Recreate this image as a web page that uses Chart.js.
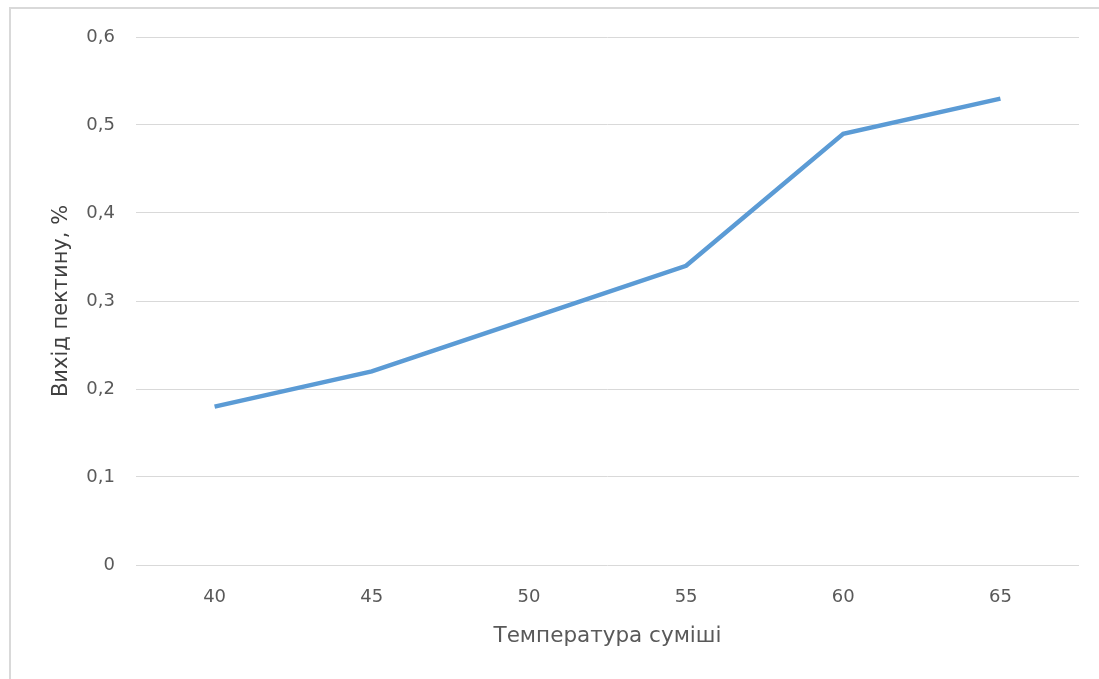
<!DOCTYPE html>
<html>
<head>
<meta charset="utf-8">
<script src="https://cdn.jsdelivr.net/npm/chart.js@4/dist/chart.umd.min.js"></script>
<style>
  html, body { margin: 0; padding: 0; background: #fff; }
  #wrap { position: absolute; left: 0; top: 0; width: 1099px; height: 679px; }
  #frame { position: absolute; left: 9px; top: 7px; right: 0; bottom: 0;
           border-left: 2px solid #d9d9d9; border-top: 2px solid #d9d9d9; pointer-events: none; }
  canvas { position: absolute; left: 0; top: 0; }
</style>
</head>
<body>
<div id="wrap">
  <canvas id="chart" width="1099" height="679"></canvas>
  <div id="frame"></div>
</div>
<script>
// Pectin yield vs mixture temperature
const temperatures = ['40', '45', '50', '55', '60', '65'];
const pectinYield = [0.18, 0.22, 0.28, 0.34, 0.49, 0.53];
const yTickValues = [0, 0.1, 0.2, 0.3, 0.4, 0.5, 0.6];

const xTitle = 'Температура суміші';
const yTitle = 'Вихід пектину, %';

const fontFamily = '"DejaVu Sans", sans-serif';
const tickFont = { family: fontFamily, size: 18 };
const tickColor = '#595959';
const gridColor = '#d9d9d9';

new Chart(document.getElementById('chart'), {
  type: 'line',
  data: {
    labels: temperatures,
    datasets: [{
      data: pectinYield,
      borderColor: '#5b9bd5',
      borderWidth: 4.5,
      pointRadius: 0,
      pointHoverRadius: 0,
      tension: 0,
      fill: false
    }]
  },
  options: {
    responsive: false,
    animation: false,
    layout: { padding: { left: 49, right: 20, top: 37, bottom: 30 } },
    plugins: { legend: { display: false }, tooltip: { enabled: false } },
    scales: {
      x: {
        offset: true,
        afterFit: axis => { axis.height = 84; },
        grid: { display: false, drawTicks: false },
        border: { display: false },
        ticks: { color: tickColor, font: tickFont, padding: 22 },
        title: {
          display: true, text: xTitle, color: tickColor,
          font: { family: fontFamily, size: 21.5 },
          padding: { top: 0, bottom: 0 }
        }
      },
      y: {
        min: 0, max: 0.6,
        afterFit: axis => { axis.width = 87; },
        afterBuildTicks: axis => { axis.ticks = yTickValues.map(v => ({ value: v })); },
        grid: { color: gridColor, lineWidth: 1, drawTicks: false },
        border: { display: false },
        ticks: {
          color: tickColor, font: tickFont, padding: 21,
          callback: v => v === 0 ? '0' : v.toFixed(1).replace('.', ',')
        },
        title: {
          display: true, text: yTitle, color: '#404040',
          font: { family: fontFamily, size: 21 },
          padding: { top: 0, bottom: 0 }
        }
      }
    }
  }
});
</script>
</body>
</html>
